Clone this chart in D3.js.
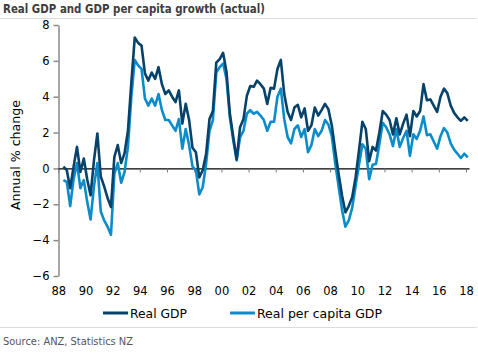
<!DOCTYPE html>
<html>
<head>
<meta charset="utf-8">
<script src="https://cdn.jsdelivr.net/npm/d3@7"></script>
<style>
  body { margin: 0; background: #fff; }
  svg { display: block; }
</style>
</head>
<body>
<div id="content"></div>
<script>
// quarterly, Jun 1988 .. Mar 2018
var firstQuarter = 1988.375;

var realGdp = [
  0.1, -0.1, -1.1, 0.1, 1.2, -0.2, 0.55, -0.6, -1.5, 0.45,
  1.95, -0.45, -1.0, -1.65, -2.15, 0.65, 1.3, 0.3, 0.85, 2.1,
  4.8, 7.3, 7.0, 6.85, 5.3, 4.9, 5.35, 5.0, 5.65, 4.7,
  4.15, 4.35, 4.0, 3.7, 4.35, 2.5, 3.6, 2.7, 1.15, 0.9,
  -0.5, -0.1, 0.8, 2.75, 3.2, 5.9, 6.1, 6.45, 5.4, 3.05,
  1.75, 0.5, 2.3, 2.75, 4.05, 4.6, 4.55, 4.9, 4.7, 4.45,
  3.6, 4.5, 4.45, 5.55, 6.05, 4.15, 3.15, 2.7, 3.4, 3.55,
  2.85, 3.35, 2.1, 2.4, 3.4, 2.95, 3.25, 3.6, 3.3, 2.4,
  1.0, -0.3, -1.5, -2.45, -2.1, -1.6, -0.5, 1.0, 2.6, 2.2,
  0.4, 1.2, 1.0, 2.0, 3.2, 3.0, 2.7, 1.9, 2.8, 1.9,
  2.5, 3.0, 1.8, 3.2, 2.9, 3.2, 4.7, 3.8, 3.85, 3.5,
  3.15, 4.0, 4.45, 4.2, 3.5, 3.1, 2.85, 2.65, 2.85, 2.65
];

var perCapitaGdp = [
  -0.65, -0.75, -2.1, -0.6, 0.3, -1.1, -0.65, -1.85, -2.85, -1.0,
  0.3, -2.4, -2.9, -3.25, -3.7, -0.3, 0.3, -0.8, -0.2, 1.2,
  4.0, 6.05, 5.75, 5.55, 3.9, 3.5, 3.9, 3.5, 4.15, 3.25,
  2.7, 2.7, 2.4, 2.1, 2.75, 1.1, 2.2, 1.3, 0.1, -0.1,
  -1.45, -1.05, 0.25, 2.1, 2.7, 5.35, 5.65, 5.85, 5.0, 2.85,
  1.55, 0.45, 1.75, 2.1, 3.05, 3.25, 3.05, 3.15, 2.95, 2.7,
  2.1, 2.6, 2.6, 4.0, 4.45, 2.75, 1.75, 1.4, 2.2, 2.4,
  1.75, 2.2, 0.9, 1.3, 2.2, 1.8, 2.1, 2.7, 2.45, 1.8,
  0.3, -1.0, -2.3, -3.25, -2.9, -2.2, -1.0, 0.2, 1.35, 1.1,
  -0.6, 0.2, 0.25, 1.35, 2.55, 2.3, 1.9, 1.25, 2.2, 1.2,
  1.7, 2.1, 0.7, 1.9, 1.65, 2.1, 2.9, 1.85, 1.9, 1.5,
  1.1, 1.8, 2.25, 2.0, 1.4, 1.05, 0.82, 0.58, 0.82, 0.62
];

var xTickYears = [1988, 1990, 1992, 1994, 1996, 1998, 2000, 2002, 2004, 2006, 2008, 2010, 2012, 2014, 2016, 2018];
var yTicks = [-6, -4, -2, 0, 2, 4, 6, 8];

var seriesNames = ["Real GDP", "Real per capita GDP"];
var seriesColors = ["#06426a", "#0a8ccb"];

var width = 478, height = 353;
var font = "DejaVu Sans";

var svg = d3.select("#content").append("svg")
  .attr("width", width)
  .attr("height", height);

// title + frame lines
svg.append("text")
  .attr("x", 3)
  .attr("y", 13)
  .attr("font-family", font)
  .attr("font-weight", "bold")
  .attr("font-size", "11.5px")
  .attr("fill", "#3d3d3d")
  .attr("textLength", 262)
  .attr("lengthAdjust", "spacingAndGlyphs")
  .text("Real GDP and GDP per capita growth (actual)");

svg.append("line")
  .attr("x1", 0).attr("x2", 477)
  .attr("y1", 18.5).attr("y2", 18.5)
  .attr("stroke", "#dcdcdc");

svg.append("line")
  .attr("x1", 0).attr("x2", 477)
  .attr("y1", 327.5).attr("y2", 327.5)
  .attr("stroke", "#dcdcdc");

svg.append("text")
  .attr("x", 3)
  .attr("y", 345)
  .attr("font-family", font)
  .attr("font-size", "10.5px")
  .attr("fill", "#555")
  .attr("textLength", 130)
  .attr("lengthAdjust", "spacingAndGlyphs")
  .text("Source: ANZ, Statistics NZ");

var x = d3.scaleLinear().domain([1988, 2018]).range([58.3, 466]);
var y = d3.scaleLinear().domain([-6, 8]).range([276, 25]);

var dates = realGdp.map(function(d, i) { return firstQuarter + i * 0.25; });

// y axis
var yAxis = svg.append("g")
  .attr("transform", "translate(58.5,0)")
  .call(d3.axisLeft(y).tickValues(yTicks).tickSize(5).tickSizeOuter(0).tickPadding(4));
yAxis.select(".domain").attr("stroke", "#8a8a8a").attr("stroke-width", 1.5);
yAxis.selectAll(".tick line").attr("stroke", "#8a8a8a").attr("stroke-width", 1.5);
yAxis.selectAll(".tick text")
  .attr("font-family", font)
  .attr("font-size", "11.5px")
  .attr("fill", "#000");

svg.append("text")
  .attr("transform", "translate(20," + 155 + ") rotate(-90)")
  .attr("text-anchor", "middle")
  .attr("font-family", font)
  .attr("font-size", "11.5px")
  .attr("fill", "#000")
  .attr("textLength", 110)
  .attr("lengthAdjust", "spacingAndGlyphs")
  .text("Annual % change");

// zero line with ticks
var zeroAxis = svg.append("g")
  .attr("transform", "translate(0," + y(0) + ")")
  .call(d3.axisBottom(x).tickValues(xTickYears).tickSize(4).tickSizeOuter(0).tickFormat(""));
zeroAxis.select(".domain").attr("d", "M58.5,0.5H469.5").attr("stroke", "#000").attr("stroke-width", 1.3);
zeroAxis.selectAll(".tick line").attr("stroke", "#777");

// x labels
var xLabels = svg.append("g")
  .attr("transform", "translate(0,284)")
  .call(d3.axisBottom(x).tickValues(xTickYears).tickSize(0)
    .tickFormat(function(d) { return String(d).slice(2); }));
xLabels.select(".domain").remove();
xLabels.selectAll(".tick text")
  .attr("font-family", font)
  .attr("font-size", "11.5px")
  .attr("fill", "#000");

// lines
var valueline = d3.line()
  .x(function(d, i) { return x(dates[i]); })
  .y(function(d) { return y(d); });

[perCapitaGdp, realGdp].forEach(function(series, k) {
  svg.append("path")
    .datum(series)
    .attr("fill", "none")
    .attr("stroke", seriesColors[1 - k])
    .attr("stroke-width", 2.6)
    .attr("stroke-linejoin", "round")
    .attr("d", valueline);
});

// legend
var legendX = [103, 230];
var legendTextLen = [57, 125];
seriesNames.forEach(function(name, i) {
  svg.append("line")
    .attr("x1", legendX[i]).attr("x2", legendX[i] + 25)
    .attr("y1", 313).attr("y2", 313)
    .attr("stroke", seriesColors[i])
    .attr("stroke-width", 3);
  svg.append("text")
    .attr("x", legendX[i] + 27)
    .attr("y", 317.5)
    .attr("font-family", font)
    .attr("font-size", "12px")
    .attr("fill", "#000")
    .attr("textLength", legendTextLen[i])
    .attr("lengthAdjust", "spacingAndGlyphs")
    .text(name);
});
</script>
</body>
</html>
